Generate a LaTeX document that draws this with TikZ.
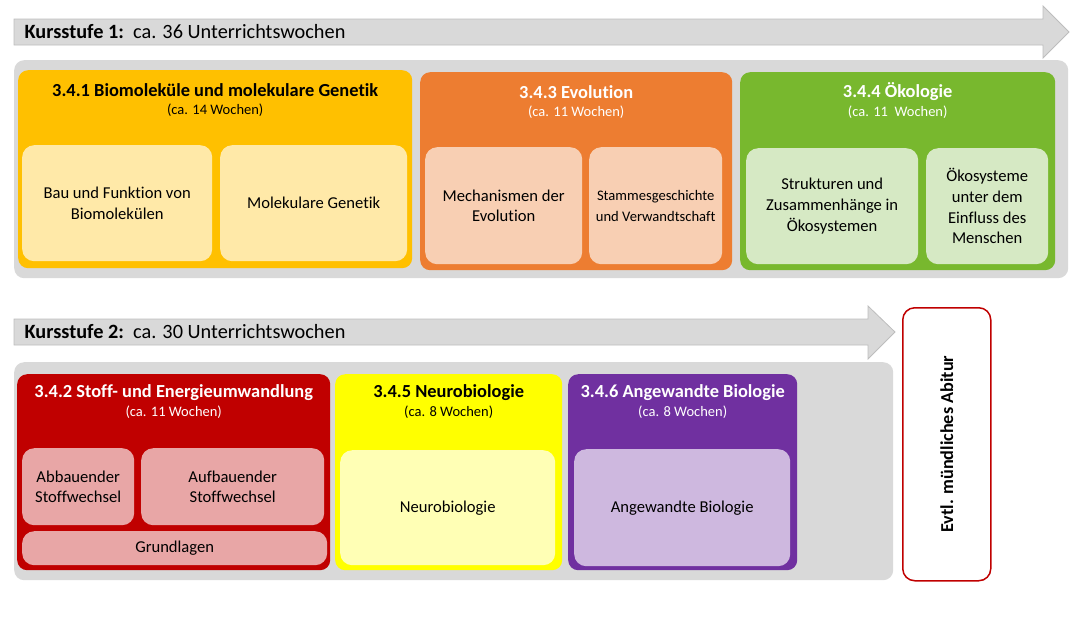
\documentclass[tikz,border=0pt]{standalone}
\usepackage{fontspec}
\setmainfont{Carlito}[Ligatures=NoCommon]
\usetikzlibrary{calc}
\definecolor{kgray}{HTML}{D9D9D9}
\definecolor{kline}{HTML}{BDBDBD}
\definecolor{gold}{HTML}{FFC000}
\definecolor{goldlight}{HTML}{FFE9A8}
\definecolor{evo}{HTML}{ED7D31}
\definecolor{evolight}{HTML}{F8CFB3}
\definecolor{oeko}{HTML}{78B82E}
\definecolor{oekolight}{HTML}{D6E9C4}
\definecolor{stoff}{HTML}{C00000}
\definecolor{stofflight}{HTML}{E8A6A6}
\definecolor{neuro}{HTML}{FFFF00}
\definecolor{neurolight}{HTML}{FFFFB5}
\definecolor{angew}{HTML}{7030A0}
\definecolor{angewlight}{HTML}{CEB8DF}
\tikzset{
  sized/.style 2 args={minimum width=#1pt, minimum height=#2pt},
  panel/.style={fill=kgray, rounded corners=10pt, anchor=north west, inner sep=0pt},
  unit/.style={rounded corners=10pt, anchor=north west, inner sep=0pt},
  subunit/.style={rounded corners=12pt, anchor=north west, inner sep=1pt, align=center,
    font=\fontsize{16.6}{20.7}\selectfont},
  unittitle/.style={font=\bfseries\fontsize{18.4}{20}\selectfont},
  unitweeks/.style={font=\fontsize{14.5}{16}\selectfont},
  kurs/.style={anchor=west, font=\fontsize{20.3}{22}\selectfont},
  kursarrow/.style={fill=kgray, draw=kline, line width=0.8pt},
}
\begin{document}
\begin{tikzpicture}[x=1pt,y=-1pt]
\useasboundingbox (0,0) rectangle (1086,619);

%% Kursstufe 1
\draw[kursarrow] (14,19) -- (1043,19) -- (1043,6) -- (1069,32) -- (1043,58) -- (1043,45) -- (14,45) -- cycle;
\node[kurs] (k1) at (21,32) {\textbf{Kursstufe 1:}\ \ ca. 36 Unterrichtswochen};
\node[panel, sized={1054}{218}] (p1) at (14,60) {};

% 3.4.1
\node[unit, fill=gold, sized={394}{198}] (u341) at (18,70) {};
\node[unittitle] (t341) at ($(u341.north)+(0,20)$) {3.4.1 Biomoleküle und molekulare Genetik};
\node[unitweeks] (w341) at ($(u341.north)+(0,40)$) {(ca. 14 Wochen)};
\node[subunit, fill=goldlight, sized={190}{116}] (bau) at (22,145) {Bau und Funktion von\\Biomolekülen};
\node[subunit, fill=goldlight, sized={187}{116}] (gen) at (220,145) {Molekulare Genetik};

% 3.4.3
\node[unit, fill=evo, sized={312}{198}] (u343) at (420,72) {};
\node[unittitle, text=white] (t343) at ($(u343.north)+(0,20)$) {3.4.3 Evolution};
\node[unitweeks, text=white] (w343) at ($(u343.north)+(0,40)$) {(ca. 11 Wochen)};
\node[subunit, fill=evolight, sized={157}{117}] (mech) at (425,147) {Mechanismen der\\Evolution};
\node[subunit, fill=evolight, sized={133}{117}, font=\fontsize{14.6}{20.7}\selectfont] (stamm) at (589,147) {Stammesgeschichte\\und Verwandtschaft};

% 3.4.4
\node[unit, fill=oeko, sized={315}{198}] (u344) at (740,72) {};
\node[unittitle, text=white] (t344) at ($(u344.north)+(0,20)$) {3.4.4 Ökologie};
\node[unitweeks, text=white] (w344) at ($(u344.north)+(0,40)$) {(ca. 11\ \ Wochen)};
\node[subunit, fill=oekolight, sized={172}{116}] (struk) at (746,148) {Strukturen und\\Zusammenhänge in\\Ökosystemen};
\node[subunit, fill=oekolight, sized={122}{116}] (mensch) at (926,148) {Ökosysteme\\unter dem\\Einfluss des\\Menschen};

%% Kursstufe 2
\draw[kursarrow] (14,319) -- (868,319) -- (868,306) -- (895,332) -- (868,359) -- (868,345) -- (14,345) -- cycle;
\node[kurs] (k2) at (21,332) {\textbf{Kursstufe 2:}\ \ ca. 30 Unterrichtswochen};
\node[panel, sized={879}{218}] (p2) at (14,362) {};

% 3.4.2
\node[unit, fill=stoff, sized={313}{196}] (u342) at (17,374) {};
\node[unittitle, text=white] (t342) at ($(u342.north)+(0,19)$) {3.4.2 Stoff- und Energieumwandlung};
\node[unitweeks, text=white] (w342) at ($(u342.north)+(0,38)$) {(ca. 11 Wochen)};
\node[subunit, fill=stofflight, sized={112}{77}] (abbau) at (22,448) {Abbauender\\Stoffwechsel};
\node[subunit, fill=stofflight, sized={183}{77}] (aufbau) at (141,448) {Aufbauender\\Stoffwechsel};
\node[subunit, fill=stofflight, sized={305}{34}] (grund) at (22,531) {Grundlagen};

% 3.4.5
\node[unit, fill=neuro, sized={227}{196}] (u345) at (335,374) {};
\node[unittitle] (t345) at ($(u345.north)+(0,19)$) {3.4.5 Neurobiologie};
\node[unitweeks] (w345) at ($(u345.north)+(0,38)$) {(ca. 8 Wochen)};
\node[subunit, fill=neurolight, sized={215}{115}] (neuro) at (340,450) {Neurobiologie};

% 3.4.6
\node[unit, fill=angew, sized={229}{196}] (u346) at (568,374) {};
\node[unittitle, text=white] (t346) at ($(u346.north)+(0,19)$) {3.4.6 Angewandte Biologie};
\node[unitweeks, text=white] (w346) at ($(u346.north)+(0,38)$) {(ca. 8 Wochen)};
\node[subunit, fill=angewlight, sized={216}{117}] (angew) at (574,449) {Angewandte Biologie};

%% Abitur
\node[unit, fill=white, draw=stoff, line width=1.5pt, rounded corners=12pt, sized={88}{273}] (abi) at (902,307) {};
\node[rotate=90, font=\bfseries\fontsize{18.2}{20}\selectfont] (abitext) at (abi.center) {Evtl. mündliches Abitur};

\end{tikzpicture}
\end{document}
